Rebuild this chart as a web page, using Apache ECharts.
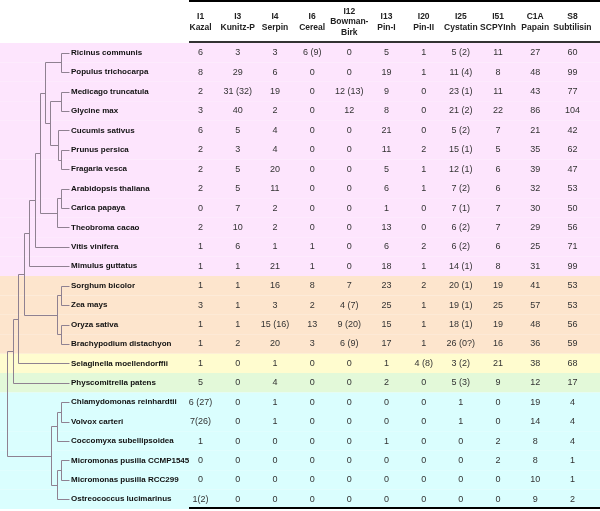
<!DOCTYPE html>
<html><head><meta charset="utf-8">
<script src="https://cdn.jsdelivr.net/npm/echarts@6/dist/echarts.min.js"></script>
<style>html,body{margin:0;padding:0;background:#fff}#c{width:600px;height:511px}</style>
</head><body><div id="c"></div>
<script>
// ---------- data ----------
const species = [
  'Ricinus communis','Populus trichocarpa','Medicago truncatula','Glycine max','Cucumis sativus',
  'Prunus persica','Fragaria vesca','Arabidopsis thaliana','Carica papaya','Theobroma cacao',
  'Vitis vinifera','Mimulus guttatus','Sorghum bicolor','Zea mays','Oryza sativa',
  'Brachypodium distachyon','Selaginella moellendorffii','Physcomitrella patens',
  'Chlamydomonas reinhardtii','Volvox carteri','Coccomyxa subellipsoidea',
  'Micromonas pusilla CCMP1545','Micromonas pusilla RCC299','Ostreococcus lucimarinus'
];
const familyCodes = ['I1','I3','I4','I6','I12','I13','I20','I25','I51','C1A','S8'];
const familyNames = ['Kazal','Kunitz-P','Serpin','Cereal','Bowman-\nBirk','Pin-I','Pin-II','Cystatin','SCPYInh','Papain','Subtilisin'];

const I1_Kazal    = ['6','8','2','3','6','2','2','2','0','2','1','1','1','3','1','1','1','5','6 (27)','7(26)','1','0','0','1(2)'];
const I3_KunitzP  = ['3','29','31 (32)','40','5','3','5','5','7','10','6','1','1','1','1','2','0','0','0','0','0','0','0','0'];
const I4_Serpin   = ['3','6','19','2','4','4','20','11','2','2','1','21','16','3','15 (16)','20','1','4','1','1','0','0','0','0'];
const I6_Cereal   = ['6 (9)','0','0','0','0','0','0','0','0','0','1','1','8','2','13','3','0','0','0','0','0','0','0','0'];
const I12_BowmanBirk = ['0','0','12 (13)','12','0','0','0','0','0','0','0','0','7','4 (7)','9 (20)','6 (9)','0','0','0','0','0','0','0','0'];
const I13_PinI    = ['5','19','9','8','21','11','5','6','1','13','6','18','23','25','15','17','1','2','0','0','1','0','0','0'];
const I20_PinII   = ['1','1','0','0','0','2','1','1','0','0','2','1','2','1','1','1','4 (8)','0','0','0','0','0','0','0'];
const I25_Cystatin = ['5 (2)','11 (4)','23 (1)','21 (2)','5 (2)','15 (1)','12 (1)','7 (2)','7 (1)','6 (2)','6 (2)','14 (1)','20 (1)','19 (1)','18 (1)','26 (0?)','3 (2)','5 (3)','1','1','0','0','0','0'];
const I51_SCPYInh = ['11','8','11','22','7','5','6','6','7','7','6','8','19','25','19','16','21','9','0','0','2','2','0','0'];
const C1A_Papain  = ['27','48','43','86','21','35','39','32','30','29','25','31','41','57','48','36','38','12','19','14','8','8','10','9'];
const S8_Subtilisin = ['60','99','77','104','42','62','47','53','50','56','71','99','53','53','56','59','68','17','4','4','4','1','1','2'];
const columns = [I1_Kazal,I3_KunitzP,I4_Serpin,I6_Cereal,I12_BowmanBirk,I13_PinI,I20_PinII,I25_Cystatin,I51_SCPYInh,C1A_Papain,S8_Subtilisin];

// clade groups (rows per group, in order)
const groupSizes = [12, 4, 1, 1, 6];

// cladogram: [nodeDepth, child, child, ...]; leaves are species names
const leafDepth = 69;
const tree = [7,
  [12.7,
    [18.3,
      [24,
        [29.3,
          [34.7,
            [40,
              [45.3,
                [61, 'Ricinus communis', 'Populus trichocarpa'],
                [50,
                  [61, 'Medicago truncatula', 'Glycine max'],
                  [57.7, 'Cucumis sativus', [61, 'Prunus persica', 'Fragaria vesca']]
                ]
              ],
              [57, [61, 'Arabidopsis thaliana', 'Carica papaya'], 'Theobroma cacao']
            ],
            'Vitis vinifera'
          ],
          'Mimulus guttatus'
        ],
        [57, [61, 'Sorghum bicolor', 'Zea mays'], [61, 'Oryza sativa', 'Brachypodium distachyon']]
      ],
      'Selaginella moellendorffii'
    ],
    'Physcomitrella patens'
  ],
  [51,
    [57, [61, 'Chlamydomonas reinhardtii', 'Volvox carteri'], 'Coccomyxa subellipsoidea'],
    [57, [61, 'Micromonas pusilla CCMP1545', 'Micromonas pusilla RCC299'], 'Ostreococcus lucimarinus']
  ]
];

// ---------- styles ----------
const groupColors = ['#FDE5FD', '#FDE5CD', '#FFFCCF', '#E3F9D9', '#DAFEFE'];
const treeColor = '#8f8191';

function fontAvailable(name) {
  const ctx = document.createElement('canvas').getContext('2d');
  const s = 'abcdefghijklmnopqrstuvwxyzWMi0123456789';
  ctx.font = '20px monospace'; const a = ctx.measureText(s).width;
  ctx.font = '20px "' + name + '", monospace'; const b = ctx.measureText(s).width;
  return Math.abs(a - b) > 0.5;
}
const hasNarrow = fontAvailable('Liberation Sans Narrow');
const nameFamily = hasNarrow ? '"Liberation Sans Narrow"' : '"Liberation Sans"';
const nameSize = hasNarrow ? 9.8 : 8;
const headFamily = hasNarrow ? '"Liberation Sans Narrow"' : '"Liberation Sans"';
const headSize = hasNarrow ? 10 : 8.5;
const numFamily = '"Liberation Sans", Arial, sans-serif';

// ---------- derived ----------
const rowGroup = [];
groupSizes.forEach((n, g) => { for (let k = 0; k < n; k++) rowGroup.push(g); });
const bandData = species.map((s, i) => [0, i, rowGroup[i]]);

const segments = [];
function layoutNode(node) {
  if (typeof node === 'string') return { x: leafDepth, y: species.indexOf(node) };
  const h = node[0];
  const kids = node.slice(1).map(layoutNode);
  const y0 = kids[0].y, y1 = kids[kids.length - 1].y;
  segments.push([h, y0, h, y1]);
  kids.forEach(k => segments.push([h, k.y, k.x, k.y]));
  return { x: h, y: (y0 + y1) / 2 };
}
layoutNode(tree);

const nameData = species.map((s, i) => [leafDepth, i, s]);
const cellData = [];
columns.forEach((col, c) => col.forEach((v, r) => cellData.push([c, r, v])));
const headerLabels = familyCodes.map((c, i) => c + '\n' + familyNames[i]);

const chart = echarts.init(document.getElementById('c'));
chart.setOption({
  animation: false,
  grid: [
    { left: 182, width: 409, top: 43, height: 466 },
    { left: 0, width: 69, top: 43, height: 466 }
  ],
  xAxis: [
    { gridIndex: 0, type: 'category', data: headerLabels, position: 'top',
      axisLine: { show: false }, axisTick: { show: false }, splitLine: { show: false },
      axisLabel: { interval: 0, fontFamily: headFamily, fontSize: headSize, fontWeight: 'bold', color: '#222',
        lineHeight: 10.5, verticalAlign: 'middle', margin: 21 } },
    { gridIndex: 1, type: 'value', min: 0, max: leafDepth, show: false }
  ],
  yAxis: [
    { gridIndex: 0, type: 'category', data: species, inverse: true, show: false },
    { gridIndex: 1, type: 'value', min: -0.5, max: species.length - 0.5, inverse: true, show: false }
  ],
  graphic: [
    { type: 'line', shape: { x1: 189, y1: 1, x2: 600, y2: 1 }, style: { stroke: '#000', lineWidth: 2 }, z: 100 },
    { type: 'line', shape: { x1: 189, y1: 42, x2: 600, y2: 42 }, style: { stroke: '#333', lineWidth: 2 }, z: 100 },
    { type: 'line', shape: { x1: 189, y1: 508, x2: 600, y2: 508 }, style: { stroke: '#000', lineWidth: 2 }, z: 100 }
  ],
  series: [
    { type: 'custom', xAxisIndex: 1, yAxisIndex: 1, z: 0, silent: true, clip: false,
      data: bandData,
      renderItem: (params, api) => {
        const p = api.coord([0, api.value(1)]);
        const h = api.size([0, 1])[1];
        return { type: 'rect', shape: { x: 0, y: p[1] - h / 2, width: api.getWidth(), height: h },
          style: { fill: groupColors[api.value(2)] } };
      } },
    { type: 'custom', xAxisIndex: 1, yAxisIndex: 1, z: 2, silent: true, clip: false,
      data: segments,
      renderItem: (params, api) => {
        const a = api.coord([api.value(0), api.value(1)]);
        const b = api.coord([api.value(2), api.value(3)]);
        return { type: 'line', shape: { x1: Math.round(a[0]) + 0.5, y1: Math.round(a[1]) + 0.5, x2: Math.round(b[0]) + 0.5, y2: Math.round(b[1]) + 0.5 },
          style: { stroke: treeColor, lineWidth: 1 } };
      } },
    { type: 'custom', xAxisIndex: 1, yAxisIndex: 1, z: 3, silent: true, clip: false,
      data: nameData,
      renderItem: (params, api) => {
        const p = api.coord([api.value(0), api.value(1)]);
        return { type: 'text', x: p[0] + 2, y: p[1],
          style: { text: nameData[params.dataIndex][2], fontFamily: nameFamily, fontSize: nameSize, fontWeight: 'bold',
            fill: '#111', align: 'left', verticalAlign: 'middle' } };
      } },
    { type: 'custom', xAxisIndex: 0, yAxisIndex: 0, z: 3, silent: true, clip: false,
      data: cellData,
      renderItem: (params, api) => {
        const p = api.coord([api.value(0), api.value(1)]);
        return { type: 'text', x: p[0], y: p[1],
          style: { text: cellData[params.dataIndex][2], fontFamily: numFamily, fontSize: 9,
            fill: '#333', align: 'center', verticalAlign: 'middle' } };
      } }
  ]
});
</script>
</body></html>
